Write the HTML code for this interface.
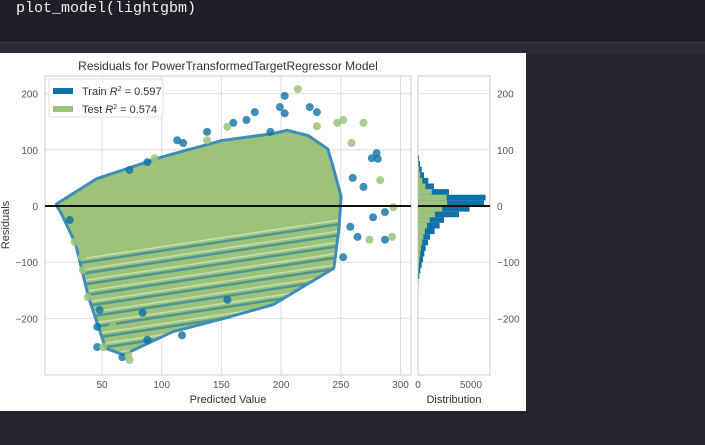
<!DOCTYPE html>
<html><head><meta charset="utf-8"><style>
body{margin:0;width:705px;height:445px;background:#23242d;overflow:hidden;font-family:"Liberation Sans",sans-serif}
#code{position:absolute;left:0;top:0;width:705px;height:42px;background:#1f2027}
#code span{position:absolute;left:16px;top:0px;font:15px "Liberation Mono",monospace;color:#f0f0f0}
#band{position:absolute;left:0;top:42px;width:705px;height:11px;background:#2a2c35;border-top:1px solid #3a3c46}
svg{position:absolute;left:0;top:53px}
</style></head><body>
<div id="code"><span>plot_model(lightgbm)</span></div>
<div id="band"></div>
<svg id="chart" width="526" height="358" viewBox="0 53 526 358" font-family="Liberation Sans, sans-serif">
<rect x="0" y="53" width="526" height="358" fill="#fff"/>
<g id="g"></g>
</svg>
<script>
const xTicks=[50,100,150,200,250,300];
const yTicks=[200,100,0,-100,-200];
const histTicks=[0,5000];
const upperEnv=[[13,2],[46,46],[101,85],[151,114],[193,126],[205,132],[222,123],[238,100],[243,64],[249,16],[247,-43],[243,-109]];
const lowerEnv=[[193,-173],[151,-198],[109,-221],[68,-262],[54,-251],[40,-162],[29,-66],[17,-12]];
const trainPts=[[203,196],[199,176],[203,165],[178,167],[171,153],[230,167],[224,176],[280,94],[281,84],[276,85],[287,-11],[277,-20],[287,-60],[46,-251],[67,-269],[88,-238],[117,-230],[46,-215],[113,117],[118,112],[73,64],[88,78],[138,132],[160,148],[191,132],[260,50],[269,34],[258,-37],[264,-55],[252,-91],[48,-185],[84,-190],[155,-167],[23,-25]];
const testPts=[[214,208],[269,148],[252,153],[247,148],[230,142],[259,112],[294,-2],[283,46],[293,-55],[274,-60],[33,-91],[34,-114],[38,-162],[51,-251],[73,-274],[72,-265],[59,-212],[138,117],[155,141],[94,85],[27,-64]];
const binEdgesTop=[90,80,70,60,50,40,30,20,10,0,-10,-20,-30,-40,-50,-60,-70,-80,-90,-100,-110,-120,-130,-140];
const trainHist=[94,189,350,566,975,1510,2920,6380,6230,4870,3870,2450,2040,1570,1130,945,725,600,470,350,220,125,30,10];
const testHist=[30,60,110,200,400,700,1300,2700,2750,2300,1600,1100,850,650,500,400,280,200,140,90,60,30,10,5];
const binWidth=10;
const BLUE="#0e72a8",GREEN="#9dc37b";
const AX={l:45,r:411,t:76,b:375},HX={l:418,r:490};
const xs=v=>102+(v-50)*1.194;
const ys=v=>206-v*0.562;
const hs=v=>HX.l+v*53/5000;
const g=document.getElementById('g');
const NS="http://www.w3.org/2000/svg";
function mk(t,a,p){const e=document.createElementNS(NS,t);for(const k in a)e.setAttribute(k,a[k]);(p||g).appendChild(e);return e;}
function txt(s,x,y,size,anchor,fill){const e=mk('text',{x:x,y:y,'font-size':size,'text-anchor':anchor||'middle',fill:fill||'#555'});e.textContent=s;return e;}
let f=mk('rect',{x:AX.l,y:AX.t,width:AX.r-AX.l,height:AX.b-AX.t,fill:'#fff',stroke:'#ccc'});


f=mk('rect',{x:HX.l,y:AX.t,width:HX.r-HX.l,height:AX.b-AX.t,fill:'#fff',stroke:'#ccc'});


xTicks.forEach(v=>{const l=mk('line',{x1:xs(v),x2:xs(v),y1:AX.t,y2:AX.b,stroke:'#ddd'});


const t=txt(String(v),xs(v),388,10);

});
yTicks.forEach(v=>{[[AX.l,AX.r],[HX.l,HX.r]].forEach(r=>{const l=mk('line',{x1:r[0],x2:r[1],y1:ys(v),y2:ys(v),stroke:'#ddd'});

});
const s=v<0?'\u2212'+(-v):String(v);
let t=txt(s,38,ys(v)+4,10,'end');


t=txt(s,497,ys(v)+4,10,'start');

});
histTicks.forEach(v=>{const t=txt(String(v),hs(v),388,10);

});
// envelope cloud
const env=upperEnv.concat(lowerEnv);
const ptsStr=env.map(p=>xs(p[0])+','+ys(p[1])).join(' ');
const defs=mk('defs',{});
const cp=mk('clipPath',{id:'cloudclip'},defs);
mk('polygon',{points:ptsStr},cp);
let pg=mk('polygon',{points:ptsStr,fill:BLUE,stroke:BLUE,'stroke-width':6,'stroke-linejoin':'round',opacity:0.8});


pg=mk('polygon',{points:ptsStr,fill:GREEN});


// stripe texture in lower part (decorative)
const sg=mk('g',{'clip-path':'url(#cloudclip)'});


for(let y0=262;y0<=362;y0+=11){
  mk('line',{x1:60,y1:y0+4,x2:360,y2:y0-45+4,stroke:BLUE,'stroke-width':2.5,opacity:0.55},sg);
  mk('line',{x1:60,y1:y0,x2:360,y2:y0-45,stroke:'#fff','stroke-width':1.5,opacity:0.45},sg);
}
trainPts.forEach(p=>{const c=mk('circle',{cx:xs(p[0]),cy:ys(p[1]),r:4,fill:BLUE,opacity:0.8});

});
testPts.forEach(p=>{const c=mk('circle',{cx:xs(p[0]),cy:ys(p[1]),r:4,fill:GREEN,opacity:0.85});

});
binEdgesTop.forEach((top,i)=>{const y1=ys(top),y2=ys(top-binWidth);
let r=mk('rect',{x:HX.l,y:y1,width:hs(trainHist[i])-HX.l,height:y2-y1,fill:BLUE});


r=mk('rect',{x:HX.l,y:y1,width:hs(testHist[i])-HX.l,height:y2-y1,fill:GREEN});

});
let z=mk('line',{x1:AX.l,x2:AX.r,y1:ys(0),y2:ys(0),stroke:'#111','stroke-width':2});


z=mk('line',{x1:HX.l,x2:HX.r,y1:ys(0),y2:ys(0),stroke:'#111','stroke-width':2});


const lg=mk('g',{});


mk('rect',{x:49,y:79,width:114,height:38,fill:'#fff',opacity:0.85,stroke:'#ddd',rx:2},lg);
mk('rect',{x:53,y:88,width:20,height:6,fill:BLUE},lg);
mk('rect',{x:53,y:106,width:20,height:6,fill:GREEN},lg);
let t=mk('text',{x:82,y:95,'font-size':11,fill:'#333'},lg);t.innerHTML='Train <tspan font-style="italic">R</tspan><tspan font-size="7" dy="-4">2</tspan><tspan dy="4"> = 0.597</tspan>';


t=mk('text',{x:82,y:113,'font-size':11,fill:'#333'},lg);t.innerHTML='Test <tspan font-style="italic">R</tspan><tspan font-size="7" dy="-4">2</tspan><tspan dy="4"> = 0.574</tspan>';


t=txt('Residuals for PowerTransformedTargetRegressor Model',228,70,12,'middle','#333');


t=txt('Predicted Value',228,403,11,'middle','#333');


t=txt('Distribution',454,403,11,'middle','#333');


t=txt('Residuals',9,225,11,'middle','#333');t.setAttribute('transform','rotate(-90 9 225)');


</script>
</body></html>
